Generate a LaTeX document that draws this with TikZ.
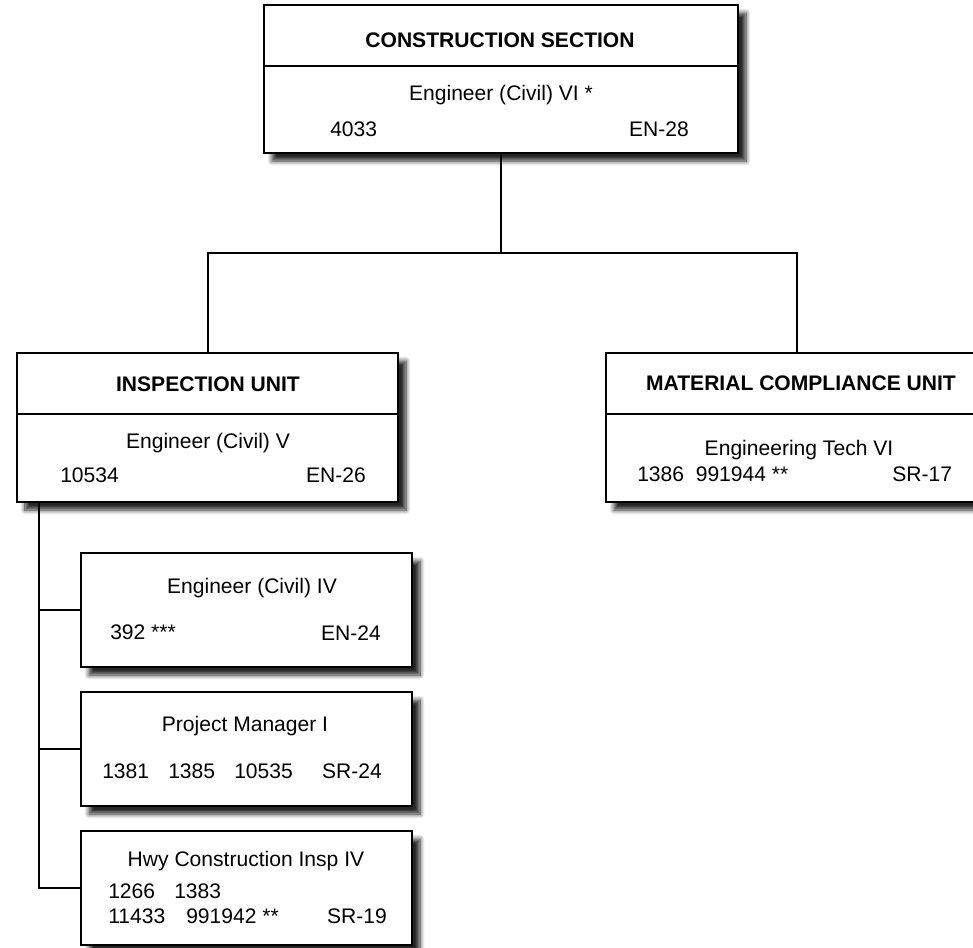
\documentclass[tikz,border=0pt]{standalone}
\usepackage{fontspec}
\setmainfont{Liberation Sans}
\usetikzlibrary{shadows.blur}
\begin{document}
\begin{tikzpicture}[x=0.75pt,y=-0.75pt,
  orgbox/.style={draw=black, line width=1.5pt, fill=white, rectangle, inner sep=0pt,
     blur shadow={shadow xshift=6pt, shadow yshift=-6pt, shadow blur radius=3.5pt,
                  shadow blur steps=10, shadow opacity=85}},
  unitbox/.style={orgbox, minimum width=285.75pt, minimum height=111.75pt},
  sectbox/.style={orgbox, minimum width=355.5pt, minimum height=111pt},
  posbox/.style={orgbox, minimum width=248.25pt, minimum height=85.5pt},
  divider/.style={line width=1.5pt},
  conn/.style={line width=1.5pt},
  txt/.style={inner sep=0pt, font=\fontsize{15.8}{19}\selectfont},
  ttl/.style={inner sep=0pt, font=\fontsize{15.8}{19}\selectfont\bfseries},
]
\useasboundingbox (0,0) rectangle (973,947);

% boxes
\node[sectbox] (top)  at (501,79) {};
\node[unitbox] (insp) at (207.5,427.5) {};
\node[unitbox] (mat)  at (796.5,427.5) {};
\node[posbox]  (c1)   at (246.5,610) {};
\node[posbox]  (c2)   at (246.5,749) {};
\node[posbox]  (c3)   at (246.5,888) {};

% dividers
\draw[divider] ([yshift=-46.5pt]top.north west) -- ([yshift=-46.5pt]top.north east);
\draw[divider] ([yshift=-46.5pt]insp.north west) -- ([yshift=-46.5pt]insp.north east);
\draw[divider] ([yshift=-46.5pt]mat.north west) -- ([yshift=-46.5pt]mat.north east);

% connectors
\coordinate (j) at (501,253);
\coordinate (spine) at ([xshift=17.25pt]insp.south west);
\draw[conn] (top.south) -- (j);
\draw[conn] (insp.north) |- (j) -| (mat.north);
\draw[conn] (spine) |- (c3.west);
\draw[conn] (c1.west) -- (c1.west -| spine);
\draw[conn] (c2.west) -- (c2.west -| spine);

% top box text
\node[ttl, anchor=base] (t1) at (500,47.5) {CONSTRUCTION SECTION};
\node[txt, anchor=base] (t2) at (501,100) {Engineer (Civil) VI *};
\node[txt, anchor=base west] (t3) at (330,136) {4033};
\node[txt, anchor=base east] (t4) at (689,136) {EN-28};

% inspection unit text
\node[ttl, anchor=base] (i1) at (208,391.5) {INSPECTION UNIT};
\node[txt, anchor=base] (i2) at (208,448) {Engineer (Civil) V};
\node[txt, anchor=base west] (i3) at (60,482) {10534};
\node[txt, anchor=base east] (i4) at (366,482) {EN-26};

% material compliance unit text
\node[ttl, anchor=base] (m1) at (801,390.5) {MATERIAL COMPLIANCE UNIT};
\node[txt, anchor=base] (m2) at (799,455) {Engineering Tech VI};
\node[txt, anchor=base west] (m3) at (637,481) {1386\ \ 991944 **};
\node[txt, anchor=base west] (m4) at (892,481) {SR-17};

% child 1
\node[txt, anchor=base] (a1) at (252,593) {Engineer (Civil) IV};
\node[txt, anchor=base west] (a2) at (110,639.5) {392 ***};
\node[txt, anchor=base east] (a3) at (381,640) {EN-24};

% child 2
\node[txt, anchor=base] (b1) at (245,731) {Project Manager I};
\node[txt, anchor=base west] (b2) at (102,778) {1381};
\node[txt, anchor=base west] (b3) at (168,778) {1385};
\node[txt, anchor=base west] (b4) at (234,778) {10535};
\node[txt, anchor=base east] (b5) at (382,778) {SR-24};

% child 3
\node[txt, anchor=base] (d1) at (246,866) {Hwy Construction Insp IV};
\node[txt, anchor=base west] (d2) at (108,898) {1266};
\node[txt, anchor=base west] (d3) at (174,898) {1383};
\node[txt, anchor=base west] (d4) at (108,923) {11433};
\node[txt, anchor=base west] (d5) at (186,923) {991942 **};
\node[txt, anchor=base east] (d6) at (387,923) {SR-19};
\end{tikzpicture}
\end{document}
